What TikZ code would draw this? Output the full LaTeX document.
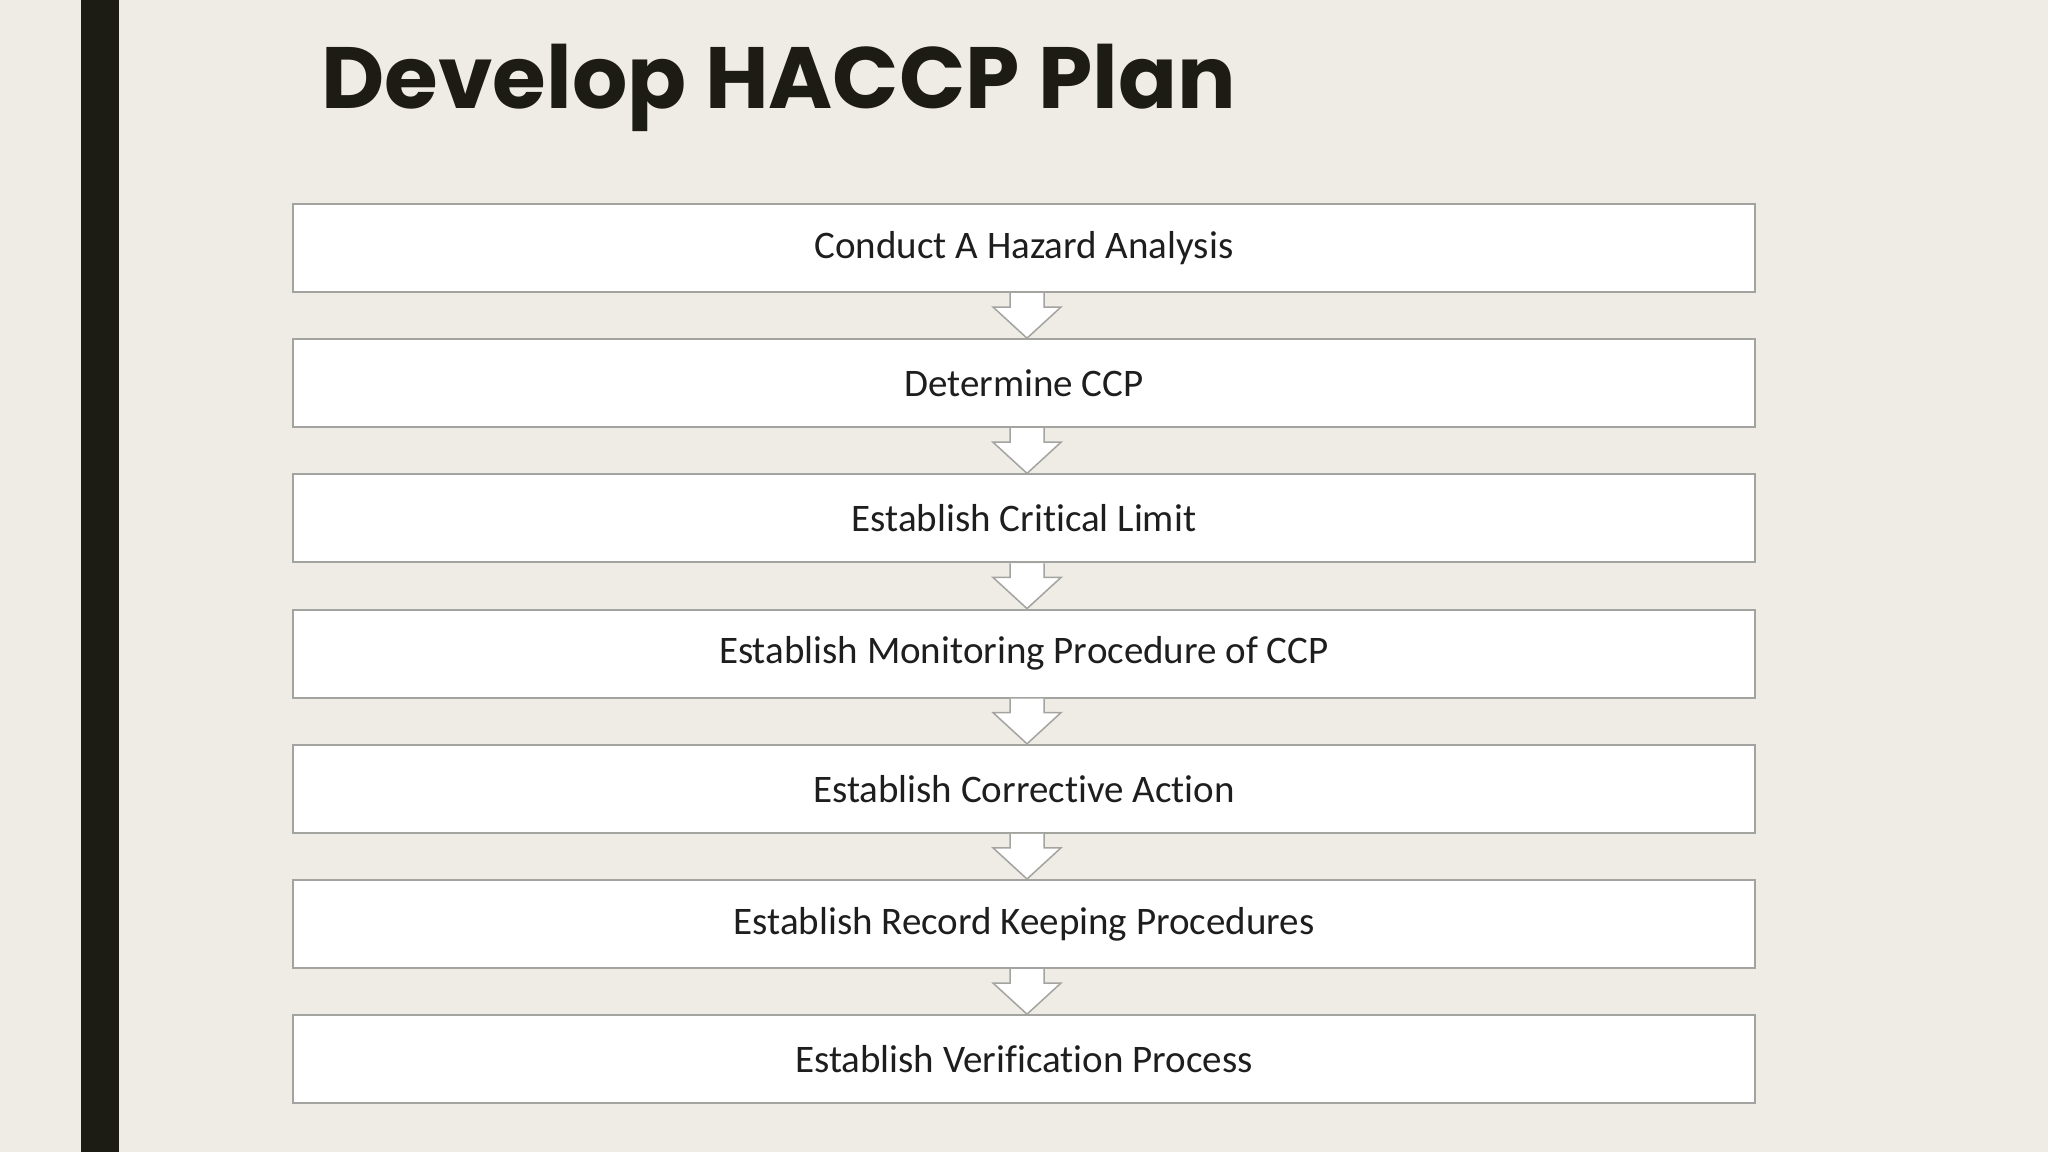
\documentclass[tikz,border=0pt]{standalone}
\usepackage{fontspec}
\setmainfont[Ligatures=NoCommon]{Carlito}
\newfontfamily\titlefont{Poppins}
\usetikzlibrary{calc}
\definecolor{slide}{HTML}{EFECE6}
\definecolor{bar}{HTML}{1C1C14}
\definecolor{edge}{HTML}{A3A3A0}
\definecolor{ink}{HTML}{1E1E1E}
\newcommand{\flow}[2]{%
  \draw[flow] ($(#1.south)+(-14,0)$) -- ($(#1.south)+(-14,14)$) -- ($(#1.south)+(-31,14)$)
    -- ($(#2.north)+(3,0)$) -- ($(#1.south)+(37,14)$) -- ($(#1.south)+(20,14)$) -- ($(#1.south)+(20,0)$);}

\begin{document}
\begin{tikzpicture}[
				x=1pt, y=-1pt,
				node distance=135.2pt,
				stepbox/.style={draw=edge, line width=2pt, fill=white, rectangle,
					minimum width=1462pt, minimum height=88pt, inner sep=0pt,
					text=ink, font=\fontsize{39}{44}\selectfont},
				flow/.style={draw=edge, line width=1.5pt, fill=white, line join=miter}]
			
			\useasboundingbox (0,0) rectangle (2048,1152);
			\fill[slide] (0,0) rectangle (2048,1152);
			\fill[bar] (81,0) rectangle (119,1152);
			
			\node[anchor=base west, text=bar, font=\titlefont\bfseries\fontsize{87}{90}\selectfont] (title) at (318,108) {Develop HACCP Plan};
			
			\node[stepbox] (hazard) at (1024,248) {Conduct A Hazard Analysis};
			\node[stepbox, below of=hazard] (ccp) {Determine CCP};
			\node[stepbox, below of=ccp] (limit) {Establish Critical Limit};
			\node[stepbox, below of=limit] (monitor) {Establish Monitoring Procedure of CCP};
			\node[stepbox, below of=monitor] (action) {Establish Corrective Action};
			\node[stepbox, below of=action] (record) {Establish Record Keeping Procedures};
			\node[stepbox, below of=record] (verify) {Establish Verification Process};
			
			\flow{hazard}{ccp}
			\flow{ccp}{limit}
			\flow{limit}{monitor}
			\flow{monitor}{action}
			\flow{action}{record}
			\flow{record}{verify}
			
		\end{tikzpicture}
\end{document}
